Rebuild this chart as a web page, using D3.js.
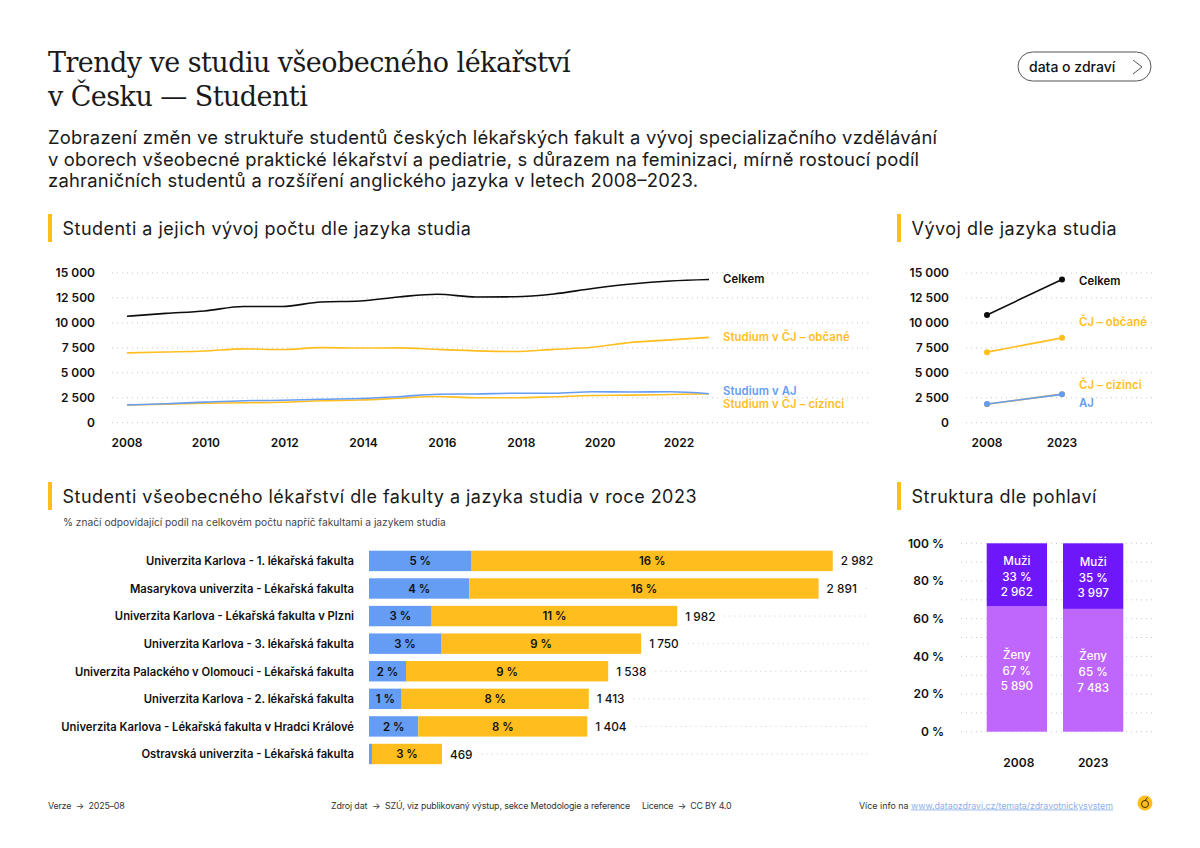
<!DOCTYPE html>
<html lang="cs">
<head>
<meta charset="utf-8">
<script src="https://cdn.jsdelivr.net/npm/d3@7"></script>
<style>
  html, body { margin: 0; padding: 0; background: #fff; }
  svg { display: block; }
  text { font-family: Inter, "Noto Sans", sans-serif; fill: #111; }
  .title { font-family: "DejaVu Serif", serif; font-size: 27px; letter-spacing: -0.55px; fill: #1a1a1a; }
  .sub { font-size: 18.4px; fill: #1a1a1a; }
  .head { font-size: 18px; letter-spacing: 0.48px; fill: #1a1a1a; }
  .note { font-size: 10.2px; fill: #444; }
  .tick-label, .axis text { font-size: 12px; font-weight: 600; fill: #111; }
  .series { font-size: 11.3px; font-weight: 600; letter-spacing: 0.1px; }
  .cat { font-size: 11.25px; font-weight: 600; }
  .val { font-size: 11.8px; font-weight: 500; }
  .pct { font-size: 11.4px; font-weight: 600; }
  .inbar { font-size: 11.6px; font-weight: 500; fill: #fff; }
  .foot { font-size: 8.9px; fill: #333; white-space: pre; }
  .grid { stroke: #c9c9c9; stroke-width: 1; stroke-dasharray: 1 4; }
</style>
</head>
<body>
<svg id="chart" width="1200" height="848"></svg>
<script>
// line chart - number of students
var years = [2008, 2009, 2010, 2011, 2012, 2013, 2014, 2015, 2016, 2017, 2018, 2019, 2020, 2021, 2022, 2023];
var celkem = [10670, 10950, 11200, 11650, 11650, 12100, 12200, 12600, 12870, 12600, 12620, 12900, 13450, 13900, 14200, 14350];
var obcane = [7000, 7080, 7180, 7400, 7330, 7520, 7480, 7500, 7350, 7200, 7130, 7350, 7560, 8050, 8300, 8550];
var studiumAJ = [1780, 1900, 2060, 2200, 2250, 2350, 2420, 2600, 2850, 2880, 2950, 2950, 3100, 3080, 3100, 2900];
var cizinci = [1780, 1850, 1950, 2000, 2050, 2200, 2280, 2450, 2620, 2500, 2500, 2600, 2720, 2760, 2820, 2900];
var yTicks = [0, 2500, 5000, 7500, 10000, 12500, 15000];
var yearTicks = [2008, 2010, 2012, 2014, 2016, 2018, 2020, 2022];

// slope chart 2008 vs 2023
var slopeYears = [2008, 2023];
var slopeCelkem = [10800, 14350];
var slopeObcane = [7070, 8500];
var slopeCizinci = [1850, 2860];
var slopeAJ = [1870, 2840];

// faculties
var faculties = [
  "Univerzita Karlova - 1. lékařská fakulta",
  "Masarykova univerzita - Lékařská fakulta",
  "Univerzita Karlova - Lékařská fakulta v Plzni",
  "Univerzita Karlova - 3. lékařská fakulta",
  "Univerzita Palackého v Olomouci - Lékařská fakulta",
  "Univerzita Karlova - 2. lékařská fakulta",
  "Univerzita Karlova - Lékařská fakulta v Hradci Králové",
  "Ostravská univerzita - Lékařská fakulta"
];
var facultyAJ = [660, 645, 403, 463, 238, 210, 317, 19];
var facultyTotal = [2982, 2891, 1982, 1750, 1538, 1413, 1404, 469];
var pctAJ = ["5 %", "4 %", "3 %", "3 %", "2 %", "1 %", "2 %", ""];
var pctCJ = ["16 %", "16 %", "11 %", "9 %", "9 %", "8 %", "8 %", "3 %"];

// gender
var genderYears = ["2008", "2023"];
var muzi = [2962, 3997];
var zeny = [5890, 7483];
var muziPct = ["33 %", "35 %"];
var zenyPct = ["67 %", "65 %"];
var shareTicks = [0, 20, 40, 60, 80, 100];
var shareGrid = [0, 10, 20, 30, 40, 50, 60, 70, 80, 90, 100];

var black = "#0d0d0d", yellow = "#ffbe1e", blue = "#659cf4", purple = "#6f17fb", lilac = "#bf66fd";

var fmt = d3.formatLocale({ decimal: ",", thousands: " ", grouping: [3], currency: ["", ""] }).format(",d");

var svg = d3.select("#chart");

// header
svg.append("text").attr("class", "title").attr("x", 48).attr("y", 72).text("Trendy ve studiu všeobecného lékařství");
svg.append("text").attr("class", "title").attr("x", 48).attr("y", 106).text("v Česku — Studenti");

var subLines = [
  "Zobrazení změn ve struktuře studentů českých lékařských fakult a vývoj specializačního vzdělávání",
  "v oborech všeobecné praktické lékařství a pediatrie, s důrazem na feminizaci, mírně rostoucí podíl",
  "zahraničních studentů a rozšíření anglického jazyka v letech 2008–2023."
];
var subWidths = [889, 871, 650];
subLines.forEach(function(line, i) {
  svg.append("text").attr("class", "sub").attr("x", 48).attr("y", 144 + i * 21.6)
    .attr("textLength", subWidths[i]).text(line);
});

// button top right
svg.append("rect").attr("x", 1018).attr("y", 52).attr("width", 133).attr("height", 29).attr("rx", 14.5)
  .attr("fill", "#fff").attr("stroke", "#555").attr("stroke-width", 1);
svg.append("text").attr("x", 1029).attr("y", 72).attr("font-size", 14).attr("font-weight", 500).text("data o zdraví");
svg.append("path").attr("d", "M1133,60 L1142,67 L1133,74").attr("fill", "none").attr("stroke", "#555");

// section headings
function heading(x, y, label) {
  svg.append("rect").attr("x", x).attr("y", y - 14).attr("width", 4).attr("height", 28).attr("fill", yellow);
  svg.append("text").attr("class", "head").attr("x", x + 14.5).attr("y", y + 6.5).text(label);
}
heading(48, 228, "Studenti a jejich vývoj počtu dle jazyka studia");
heading(897, 228, "Vývoj dle jazyka studia");
heading(48, 496, "Studenti všeobecného lékařství dle fakulty a jazyka studia v roce 2023");
heading(897, 496, "Struktura dle pohlaví");
svg.append("text").attr("class", "note").attr("x", 63).attr("y", 526)
  .text("% značí odpovídající podíl na celkovém počtu napříč fakultami a jazykem studia");

// shared y scale of the two top charts
var y = d3.scaleLinear().domain([0, 15000]).range([422.7, 273]);

function yAxis(x0, x1) {
  svg.append("g").selectAll("line").data(yTicks).enter().append("line")
    .attr("class", "grid").attr("x1", x0).attr("x2", x1)
    .attr("y1", function(d) { return y(d); }).attr("y2", function(d) { return y(d); });
  var g = svg.append("g").attr("class", "axis").attr("transform", "translate(" + (x0 - 17) + ",0)")
    .call(d3.axisLeft(y).tickValues(yTicks).tickSize(0).tickPadding(0).tickFormat(fmt));
  g.select(".domain").remove();
}

// line chart
yAxis(112, 868);
var x = d3.scaleLinear().domain([2008, 2023]).range([127, 709]);
// the tick labels in the original are spaced a bit wider than the line itself
var xTick = d3.scaleLinear().domain([2008, 2022]).range([127, 679]);

var lineSeries = [
  { values: cizinci, color: yellow, label: "Studium v ČJ – cizinci", dy: 10 },
  { values: obcane, color: yellow, label: "Studium v ČJ – občané", dy: 0 },
  { values: studiumAJ, color: blue, label: "Studium v AJ", dy: -3 },
  { values: celkem, color: black, label: "Celkem", dy: 0 }
];
var line = d3.line()
  .x(function(d, i) { return x(years[i]); })
  .y(function(d) { return y(d); })
  .curve(d3.curveMonotoneX);

lineSeries.forEach(function(s) {
  svg.append("path").attr("d", line(s.values)).attr("fill", "none")
    .attr("stroke", s.color).attr("stroke-width", 1.6);
  svg.append("text").attr("class", "series").attr("x", x(2023) + 14)
    .attr("y", y(s.values[s.values.length - 1]) + s.dy)
    .attr("dy", "0.35em").style("fill", s.color).text(s.label);
});

svg.append("g").selectAll("text").data(yearTicks).enter().append("text")
  .attr("class", "tick-label").attr("text-anchor", "middle")
  .attr("x", function(d) { return xTick(d); }).attr("y", 447).text(function(d) { return d; });

// slope chart
yAxis(966, 1152);
var xs = d3.scalePoint().domain(slopeYears).range([987, 1062]);
var slopeSeries = [
  { values: slopeCizinci, color: yellow, label: "ČJ – cizinci", dy: -8.7 },
  { values: slopeObcane, color: yellow, label: "ČJ – občané", dy: -16 },
  { values: slopeAJ, color: blue, label: "AJ", dy: 8.3 },
  { values: slopeCelkem, color: black, label: "Celkem", dy: 1.5 }
];
var slope = d3.line().x(function(d, i) { return xs(slopeYears[i]); }).y(function(d) { return y(d); });
slopeSeries.forEach(function(s) {
  svg.append("path").attr("d", slope(s.values)).attr("fill", "none").attr("stroke", s.color).attr("stroke-width", 1.6);
  svg.append("g").selectAll("circle").data(s.values).enter().append("circle")
    .attr("cx", function(d, i) { return xs(slopeYears[i]); })
    .attr("cy", function(d) { return y(d); })
    .attr("r", 3).attr("fill", s.color);
  svg.append("text").attr("class", "series").attr("x", 1079).attr("y", y(s.values[1]) + s.dy)
    .attr("dy", "0.35em").style("fill", s.color).text(s.label);
});
svg.append("g").selectAll("text").data(slopeYears).enter().append("text")
  .attr("class", "tick-label").attr("text-anchor", "middle")
  .attr("x", function(d) { return xs(d); }).attr("y", 447).text(function(d) { return d; });

// faculty bars
var xb = d3.scaleLinear().domain([0, 3215]).range([369, 869]);
var yb = d3.scaleBand().domain(faculties).range([550.7, 764.2]).paddingInner(0.26);

faculties.forEach(function(name, i) {
  var mid = yb(name) + yb.bandwidth() / 2 + 0.4;
  var aj = facultyAJ[i], total = facultyTotal[i];

  svg.append("text").attr("class", "cat").attr("x", 354).attr("y", mid).attr("dy", "0.35em")
    .attr("text-anchor", "end").text(name);

  svg.append("rect").attr("x", xb(0)).attr("y", yb(name))
    .attr("width", xb(aj) - xb(0)).attr("height", yb.bandwidth()).attr("fill", blue);
  svg.append("rect").attr("x", xb(aj)).attr("y", yb(name))
    .attr("width", xb(total) - xb(aj)).attr("height", yb.bandwidth()).attr("fill", yellow);

  svg.append("text").attr("class", "pct").attr("x", (xb(0) + xb(aj)) / 2).attr("y", mid).attr("dy", "0.35em")
    .attr("text-anchor", "middle").text(pctAJ[i]);
  svg.append("text").attr("class", "pct").attr("x", (xb(aj) + xb(total)) / 2).attr("y", mid).attr("dy", "0.35em")
    .attr("text-anchor", "middle").text(pctCJ[i]);

  var val = svg.append("text").attr("class", "val").attr("x", xb(total) + 8).attr("y", mid).attr("dy", "0.35em")
    .text(fmt(total));
  // dotted guide starts where the value label ends
  var gridStart = xb(total) + 8 + val.node().getComputedTextLength() + 9;
  if (gridStart < 869) {
    svg.append("line").attr("class", "grid").attr("x1", gridStart).attr("x2", 869).attr("y1", mid - 0.4).attr("y2", mid - 0.4);
  }
});

// gender stacked bars
var ys = d3.scaleLinear().domain([0, 100]).range([731.7, 543.3]);
var xg = d3.scaleBand().domain(genderYears).range([986.7, 1123.3]).paddingInner(0.21);

svg.append("g").selectAll("line").data(shareGrid).enter().append("line")
  .attr("class", "grid").attr("x1", 961).attr("x2", 1152)
  .attr("y1", function(d) { return ys(d); }).attr("y2", function(d) { return ys(d); });

var shareAxis = svg.append("g").attr("class", "axis").attr("transform", "translate(944,0)")
  .call(d3.axisLeft(ys).tickValues(shareTicks).tickSize(0).tickPadding(0).tickFormat(function(d) { return d + " %"; }));
shareAxis.select(".domain").remove();

genderYears.forEach(function(yr, i) {
  var total = muzi[i] + zeny[i];
  var womenShare = zeny[i] / total * 100;
  var cx = xg(yr) + xg.bandwidth() / 2;

  svg.append("rect").attr("x", xg(yr)).attr("y", ys(womenShare)).attr("width", xg.bandwidth())
    .attr("height", ys(0) - ys(womenShare)).attr("fill", lilac);
  svg.append("rect").attr("x", xg(yr)).attr("y", ys(100)).attr("width", xg.bandwidth())
    .attr("height", ys(womenShare) - ys(100)).attr("fill", purple);

  [["Muži", muziPct[i], fmt(muzi[i])], ["Ženy", zenyPct[i], fmt(zeny[i])]].forEach(function(rows, k) {
    var mid = (k === 0 ? (ys(100) + ys(womenShare)) / 2 : (ys(womenShare) + ys(0)) / 2) + 1.7;
    rows.forEach(function(t, r) {
      svg.append("text").attr("class", "inbar").attr("x", cx).attr("y", mid + (r - 1) * 15.6)
        .attr("dy", "0.35em").attr("text-anchor", "middle").text(t);
    });
  });

  svg.append("text").attr("class", "tick-label").attr("text-anchor", "middle")
    .attr("x", cx + (i === 0 ? 2 : 0)).attr("y", 767).text(yr);
});

// footer
function foot(px, label) {
  return svg.append("text").attr("class", "foot").attr("x", px).attr("y", 808.5).text(label);
}
foot(48, "Verze  →  2025–08").style("letter-spacing", "-0.2px");
foot(331, "Zdroj dat  →  SZÚ, viz publikovaný výstup, sekce Metodologie a reference").style("letter-spacing", "-0.14px");
foot(642, "Licence  →  CC BY 4.0").style("letter-spacing", "-0.25px");
foot(859, "Více info na");
foot(911, "www.dataozdravi.cz/temata/zdravotnickysystem")
  .style("fill", "#8db0ec").style("letter-spacing", "-0.05px").attr("text-decoration", "underline");

// small logo
svg.append("circle").attr("cx", 1145).attr("cy", 803).attr("r", 7.5).attr("fill", yellow);
svg.append("path").attr("d", "M1141.5,804 a3.5,3.5 0 1,0 7,0 a3.5,3.5 0 0,0 -7,0 M1145,800.5 l2.5,-3")
  .attr("fill", "none").attr("stroke", "#3a2c00").attr("stroke-width", 1);
</script>
</body>
</html>
